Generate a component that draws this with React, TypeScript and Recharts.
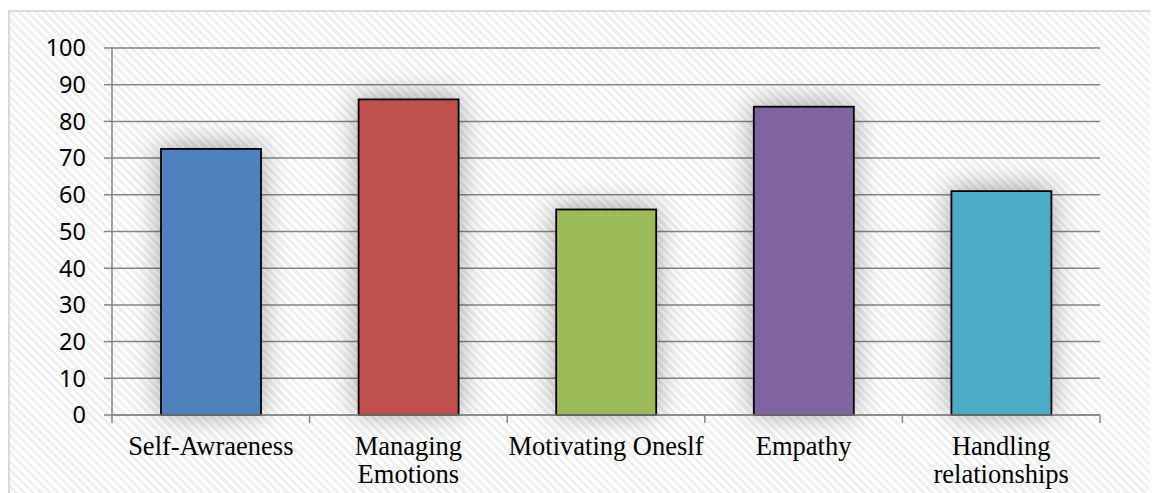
import { BarChart, Bar, XAxis, YAxis, CartesianGrid } from "recharts";

// Emotional intelligence domain scores
const categories = [
  "Self-Awraeness",
  "Managing Emotions",
  "Motivating Oneslf",
  "Empathy",
  "Handling relationships",
];
const labelLines = [
  ["Self-Awraeness"],
  ["Managing", "Emotions"],
  ["Motivating Oneslf"],
  ["Empathy"],
  ["Handling", "relationships"],
];
const scores = [72.5, 86, 56, 84, 61];
const barColors = ["#4f81bd", "#c0504d", "#9bbb59", "#8064a2", "#4bacc6"];
const yTicks = [0, 10, 20, 30, 40, 50, 60, 70, 80, 90, 100];

const data = categories.map((name, i) => ({ name, value: scores[i] }));

const CHART_W = 1148;
const CHART_H = 481;
const MARGIN = { top: 36, right: 58, left: 0, bottom: 8 };
const Y_AXIS_W = 102;
const HALF_BAND = (CHART_W - MARGIN.right - Y_AXIS_W) / categories.length / 2;
const AXIS_GRAY = "#868686";

function CategoryTick(props: any) {
  const { x, y, index } = props;
  const lines = labelLines[index] || [];
  return (
    <g>
      <line x1={x - HALF_BAND} y1={y} x2={x - HALF_BAND} y2={y + 8} stroke={AXIS_GRAY} strokeWidth={1.5} />
      {index === categories.length - 1 && (
        <line x1={x + HALF_BAND} y1={y} x2={x + HALF_BAND} y2={y + 8} stroke={AXIS_GRAY} strokeWidth={1.5} />
      )}
      {lines.map((line, i) => (
        <text
          key={i}
          x={x}
          y={y + 40 + i * 28}
          textAnchor="middle"
          fill="#000"
          fontSize={26.5}
          fontFamily="'Liberation Serif', 'Times New Roman', serif"
        >
          {line}
        </text>
      ))}
    </g>
  );
}

function ShadowBar(props: any) {
  const { x, y, width, height, index } = props;
  return (
    <rect
      x={x}
      y={y}
      width={width}
      height={height}
      fill={barColors[index]}
      stroke="#000"
      strokeWidth={1.8}
      style={{ filter: "drop-shadow(0px -2px 14px rgba(0,0,0,0.35))" }}
    />
  );
}

export default function App() {
  return (
    <div
      style={{
        marginTop: 2,
        width: 1148,
        height: 481,
        borderTop: "2px solid #d9d9d9",
        borderLeft: "2px solid #d9d9d9",
        background:
          "repeating-linear-gradient(45deg, #ffffff 0px, #ffffff 3px, #f0f0f0 3px, #f0f0f0 6px)",
      }}
    >
      <style>{`body{overflow:hidden}`}</style>
      <BarChart width={CHART_W} height={CHART_H} data={data} margin={MARGIN}>
        <CartesianGrid vertical={false} stroke={AXIS_GRAY} strokeWidth={1.5} />
        <XAxis
          dataKey="name"
          interval={0}
          height={70}
          tickLine={false}
          tickSize={0}
          tickMargin={0}
          stroke={AXIS_GRAY}
          strokeWidth={1.5}
          tick={<CategoryTick />}
        />
        <YAxis
          width={Y_AXIS_W}
          domain={[0, 100]}
          ticks={yTicks}
          interval={0}
          tickSize={8}
          tickMargin={18}
          stroke={AXIS_GRAY}
          strokeWidth={1.5}
          tick={{ fill: "#000", fontSize: 23.5, fontFamily: "'Noto Sans', sans-serif" }}
        />
        <Bar dataKey="value" barSize={100} shape={<ShadowBar />} isAnimationActive={false} />
      </BarChart>
    </div>
  );
}
